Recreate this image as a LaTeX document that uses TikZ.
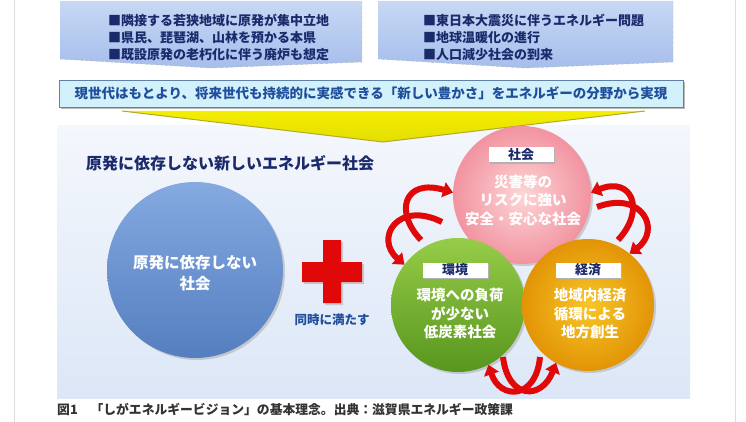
\documentclass[tikz,border=0pt]{standalone}
\usepackage{fontspec}
\setmainfont{Noto Sans CJK JP}
\usepackage{tikz}
\usetikzlibrary{arrows.meta,positioning,shadows}
\definecolor{navy}{HTML}{1B2A6B}
\definecolor{vision}{HTML}{1F4E9C}
\definecolor{boxtop}{HTML}{C8D8F4}
\definecolor{boxbot}{HTML}{A6BEEC}
\definecolor{bannerfill}{HTML}{D3F1FB}
\definecolor{bannerline}{HTML}{5F80A8}
\definecolor{paneltop}{HTML}{F4F7FC}
\definecolor{panelmid}{HTML}{D0E0F5}
\definecolor{panelbot}{HTML}{DCE7F7}
\definecolor{bluetop}{HTML}{84AAE0}
\definecolor{bluebot}{HTML}{557EC0}
\definecolor{pinkin}{HTML}{FCD6D6}
\definecolor{pinkout}{HTML}{F293A0}
\definecolor{greentop}{HTML}{96CC48}
\definecolor{greenbot}{HTML}{58961E}
\definecolor{orangein}{HTML}{F8C628}
\definecolor{orangeout}{HTML}{E29406}
\definecolor{arrowred}{HTML}{E00808}
\definecolor{frame}{HTML}{DDDDDD}
\definecolor{lemon}{HTML}{F4EE00}
\tikzset{
  issue/.style={anchor=west,align=left,text=navy,font=\fontsize{13}{17}\selectfont\bfseries,inner sep=0pt},
  banner/.style={draw=bannerline,fill=bannerfill,minimum width=624,minimum height=27,inner sep=0pt,
    text=vision,font=\fontsize{13.5}{16}\selectfont\bfseries,
    drop shadow={shadow xshift=2pt,shadow yshift=-2pt,fill=gray!55,opacity=1}},
  sphere/.style={circle,inner sep=0pt,outer sep=0pt,
    drop shadow={shadow xshift=2pt,shadow yshift=-2pt,fill=gray!70,opacity=0.5}},
  tag/.style={fill=white,minimum width=65,minimum height=15,inner sep=0pt,text=navy,
    font=\fontsize{13}{15}\selectfont\bfseries,
    drop shadow={shadow xshift=1.5pt,shadow yshift=-1.5pt,fill=gray!60,opacity=1}},
  body/.style={align=center,text=white,font=\fontsize{14.5}{18.5}\selectfont\bfseries,inner sep=0pt},
  cyc/.style={-{Triangle[length=10pt,width=15pt]},line width=6pt,draw=arrowred}
}
\begin{document}
\begin{tikzpicture}[x=1pt,y=-1pt]
\useasboundingbox (0,0) rectangle (746,422);
\draw[frame] (14,0) -- (14,422) (735,0) -- (735,422);

\shade[top color=boxtop,bottom color=boxbot] (60,1) -- (362,1) -- (362,62) -- (211,68) -- (60,59) -- cycle;
\draw[gray!60,densely dashed] (362,1) -- (362,62) -- (211,68) -- (60,59);
\shade[top color=boxtop,bottom color=boxbot] (378,1) -- (673,1) -- (673,62) -- (525,68) -- (378,59) -- cycle;
\draw[gray!60,densely dashed] (673,1) -- (673,62) -- (525,68) -- (378,59);
\node[issue] (issueL) at (108,37) {■隣接する若狭地域に原発が集中立地\\■県民、琵琶湖、山林を預かる本県\\■既設原発の老朽化に伴う廃炉も想定};
\node[issue] (issueR) at (423,37) {■東日本大震災に伴うエネルギー問題\\■地球温暖化の進行\\■人口減少社会の到来};

\node[banner] (goal) at (371,93.5) {現世代はもとより、将来世代も持続的に実感できる「新しい豊かさ」をエネルギーの分野から実現};

\shade[top color=paneltop,middle color=panelmid,bottom color=panelbot] (57,126) rectangle (690,398);
\shade[top color=lemon,bottom color=lemon!85!olive] (122,111) -- (645,111) -- (383,142) -- cycle;
\draw[olive!70,line width=1pt] (122,111) -- (383,142) -- (645,111);

\node[anchor=west,text=navy,font=\fontsize{16}{18}\selectfont\bfseries,inner sep=0pt] (title) at (86,163) {原発に依存しない新しいエネルギー社会};

\node[sphere,minimum size=176,top color=bluetop,bottom color=bluebot] (nonuke) at (195,270) {};
\node[body,font=\fontsize{15.5}{21}\selectfont\bfseries] (nonuke-text) at (195,273) {原発に依存しない\\社会};

\fill[arrowred,drop shadow={shadow xshift=2pt,shadow yshift=-2pt,fill=gray!60,opacity=0.6}]
  (323,240) rectangle (341,303) (302,262) rectangle (362,282);
\node[text=vision,font=\fontsize{12.5}{15}\selectfont\bfseries,inner sep=0pt] (both) at (332,320) {同時に満たす};

\node[sphere,minimum size=138,inner color=pinkin,outer color=pinkout] (shakai) at (522,195) {};
\node[sphere,minimum size=134,top color=greentop,bottom color=greenbot] (kankyo) at (458,305) {};
\node[sphere,minimum size=132,inner color=orangein,outer color=orangeout] (keizai) at (588,305) {};

\node[tag] (shakai-tag) at (521,155) {社会};
\node[body] (shakai-text) at (523,200) {災害等の\\リスクに強い\\安全・安心な社会};
\node[tag] (kankyo-tag) at (455,270) {環境};
\node[body] (kankyo-text) at (460,314) {環境への負荷\\が少ない\\低炭素社会};
\node[tag] (keizai-tag) at (588,270) {経済};
\node[body] (keizai-text) at (590,314) {地域内経済\\循環による\\地方創生};

\coordinate (kk-up) at (421,240);
\coordinate (sk-left) at (442,222);
\coordinate (kz-up) at (618,240);
\coordinate (sk-right) at (597,207);
\coordinate (kk-down) at (503,357);
\coordinate (kz-down) at (540,357);
\draw[cyc] (kk-up) .. controls (394,212) and (404,178) .. (shakai.178);
\draw[cyc] (sk-left) .. controls (398,200) and (374,238) .. (kankyo.143);
\draw[cyc] (kz-up) .. controls (646,210) and (632,176) .. (shakai.2);
\draw[cyc] (sk-right) .. controls (642,190) and (662,230) .. (keizai.51);
\draw[cyc] (kk-down) .. controls (508,400) and (542,400) .. (keizai.241);
\draw[cyc] (kz-down) .. controls (536,400) and (500,400) .. (kankyo.297);

\node[anchor=west,text=black!80,font=\fontsize{12.8}{15}\selectfont\bfseries,inner sep=0pt] (caption) at (57,410) {図1　「しがエネルギービジョン」の基本理念。出典：滋賀県エネルギー政策課};
\end{tikzpicture}
\end{document}
